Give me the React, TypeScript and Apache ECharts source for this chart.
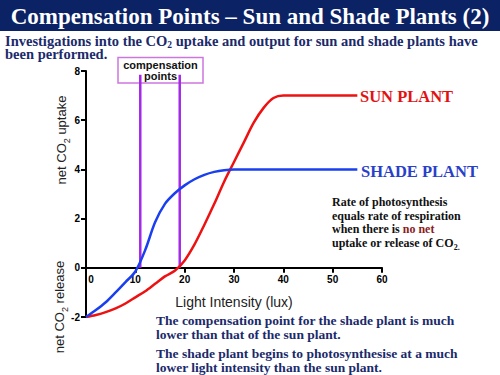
import React, { useEffect, useRef } from "react";
import * as echarts from "echarts";

// Light intensity (lux) vs net CO2 uptake
const sunX = [0, 2, 4, 6, 8, 10, 12, 14, 16, 18, 20, 22, 24, 26, 28, 30, 32, 34, 36, 38, 40, 55];
const sunY = [-2, -1.92, -1.8, -1.65, -1.45, -1.2, -0.95, -0.65, -0.35, -0.12, 0.3, 0.95, 1.75, 2.6, 3.5, 4.3, 5.1, 5.9, 6.5, 6.9, 7, 7];
const shadeX = [0, 2, 4, 6, 8, 10, 12, 14, 16, 18, 20, 22, 24, 26, 28, 30, 55];
const shadeY = [-2, -1.72, -1.4, -1.0, -0.58, -0.15, 0.72, 1.85, 2.6, 3.03, 3.35, 3.6, 3.78, 3.9, 3.97, 4, 4];
const compensationPoints = [11, 19];
const compensationTop = 7.85;

const titleText = "Compensation Points \u2013 Sun and Shade Plants (2)";
const introLines = [
  "Investigations into the CO{sub|2} uptake and output for sun and shade plants have",
  "been performed.",
];
const noteLines = [
  "Rate of photosynthesis",
  "equals rate of respiration",
  "when there is {red|no net}",
  "uptake or release of CO{sub|2.}",
];
const bottomLines = [
  "The compensation point for the shade plant is much",
  "lower than that of the sun plant.",
  "The shade plant begins to photosynthesise at a much",
  "lower light intensity than the sun plant.",
];

const NAVY = "#1b2a6b";
const SERIF = "'Liberation Serif', 'Times New Roman', serif";
const SANS = "'Liberation Sans', Arial, sans-serif";

export default function App() {
  const ref = useRef<HTMLDivElement>(null);
  useEffect(() => {
    if (!ref.current) return;
    const chart = echarts.init(ref.current, undefined, { renderer: "svg" });
    const sub = (size: number, color: string) => ({
      fontSize: size,
      fontWeight: "bold",
      fontFamily: SERIF,
      fill: color,
      verticalAlign: "bottom",
      lineHeight: size,
    });
    const graphic: any[] = [
      { type: "rect", shape: { x: 0, y: 0, width: 500, height: 31 }, style: { fill: "#0b2265" }, silent: true },
      {
        type: "text", x: 250, y: 16,
        style: { text: titleText, fill: "#ffffff", font: `bold 23px ${SERIF}`, align: "center", verticalAlign: "middle" },
      },
      ...introLines.map((t, i) => ({
        type: "text", x: 5, y: 41 + i * 13,
        style: {
          text: t, fill: NAVY, font: `bold 14.5px ${SERIF}`, align: "left", verticalAlign: "middle",
          lineHeight: i === 0 ? 18 : 13,
          rich: { sub: sub(9.5, NAVY) },
        },
      })),
      {
        type: "rect", shape: { x: 118, y: 57.5, width: 85, height: 25.5 },
        style: { fill: "#ffffff", stroke: "#cc77dd", lineWidth: 1.5 }, z: 1,
      },
      {
        type: "text", x: 160.5, y: 65, z: 2,
        style: { text: "compensation", fill: "#111", font: `bold 11px ${SANS}`, align: "center", verticalAlign: "middle" },
      },
      {
        type: "text", x: 160.5, y: 76, z: 2,
        style: { text: "points", fill: "#111", font: `bold 11px ${SANS}`, align: "center", verticalAlign: "middle" },
      },
      {
        type: "text", x: 360, y: 96,
        style: { text: "SUN PLANT", fill: "#e21212", font: `bold 16.5px ${SERIF}`, align: "left", verticalAlign: "middle" },
      },
      {
        type: "text", x: 361, y: 171,
        style: { text: "SHADE PLANT", fill: "#2a3fc9", font: `bold 16.5px ${SERIF}`, align: "left", verticalAlign: "middle" },
      },
      ...noteLines.map((t, i) => ({
        type: "text", x: 332, y: 202 + i * 13.7,
        style: {
          text: t, fill: "#111", font: `bold 12px ${SERIF}`, align: "left", verticalAlign: "middle",
          lineHeight: 16,
          rich: {
            red: { fontSize: 12, fontWeight: "bold", fontFamily: SERIF, fill: "#8b1a1a", lineHeight: 16 },
            sub: sub(8, "#111"),
          },
        },
      })),
      ...bottomLines.map((t, i) => ({
        type: "text", x: 156, y: [320, 334, 353, 367][i],
        style: { text: t, fill: NAVY, font: `bold 13.5px ${SERIF}`, align: "left", verticalAlign: "middle" },
      })),
      {
        type: "text", x: 61, y: 140, rotation: Math.PI / 2,
        style: {
          text: "net CO{sub|2} uptake", fill: "#222", font: `13px ${SANS}`, align: "center", verticalAlign: "middle",
          lineHeight: 20,
          rich: { sub: { fontSize: 9, fontFamily: SANS, fill: "#222", verticalAlign: "bottom", lineHeight: 9 } },
        },
      },
      {
        type: "text", x: 59, y: 307, rotation: Math.PI / 2,
        style: {
          text: "net CO{sub|2} release", fill: "#222", font: `13px ${SANS}`, align: "center", verticalAlign: "middle",
          lineHeight: 20,
          rich: { sub: { fontSize: 9, fontFamily: SANS, fill: "#222", verticalAlign: "bottom", lineHeight: 9 } },
        },
      },
    ];

    chart.setOption({
      animation: false,
      grid: { left: 86, top: 71, right: 118, bottom: 58, containLabel: false },
      xAxis: {
        type: "value", min: 0, max: 60, interval: 10,
        position: "bottom",
        offset: -49.2,
        axisLine: { onZero: false, lineStyle: { color: "#000", width: 2 } },
        axisTick: { show: true, length: 5, lineStyle: { color: "#000", width: 2 } },
        splitLine: { show: false },
        axisLabel: {
          color: "#000", fontWeight: "bold", fontSize: 10, fontFamily: SANS, margin: 7,
          formatter: (v: number) => (v === 0 ? "{z|0}" : String(v)),
          rich: { z: { padding: [0, 0, 0, 10], color: "#000", fontWeight: "bold", fontSize: 10, fontFamily: SANS } },
        },
        name: "Light Intensity (lux)",
        nameLocation: "middle",
        nameGap: 27,
        nameTextStyle: { color: "#222", fontSize: 14, fontFamily: SANS },
      },
      yAxis: {
        type: "value", min: -2, max: 8, interval: 2,
        axisLine: { show: true, onZero: false, lineStyle: { color: "#000", width: 2 } },
        axisTick: { show: true, length: 5, lineStyle: { color: "#000", width: 2 } },
        splitLine: { show: false },
        axisLabel: { color: "#000", fontWeight: "bold", fontSize: 10, fontFamily: SANS, margin: 6 },
      },
      series: [
        ...compensationPoints.map((cx) => ({
          type: "line", data: [[cx, 0], [cx, compensationTop]], symbol: "none",
          lineStyle: { color: "#a52ae8", width: 2.5 }, z: 1, silent: true,
        })),
        {
          type: "line", name: "SUN PLANT", data: sunX.map((x, i) => [x, sunY[i]]),
          smooth: 0.3, symbol: "none",
          lineStyle: { color: "#ee1111", width: 2.5 }, z: 3,
        },
        {
          type: "line", name: "SHADE PLANT", data: shadeX.map((x, i) => [x, shadeY[i]]),
          smooth: 0.3, symbol: "none",
          lineStyle: { color: "#1a3ff0", width: 2.5 }, z: 4,
        },
      ],
      graphic,
    });
    return () => chart.dispose();
  }, []);
  return (
    <div
      ref={ref}
      style={{ position: "fixed", left: 0, top: 0, width: 500, height: 375, background: "#fff" }}
    />
  );
}
